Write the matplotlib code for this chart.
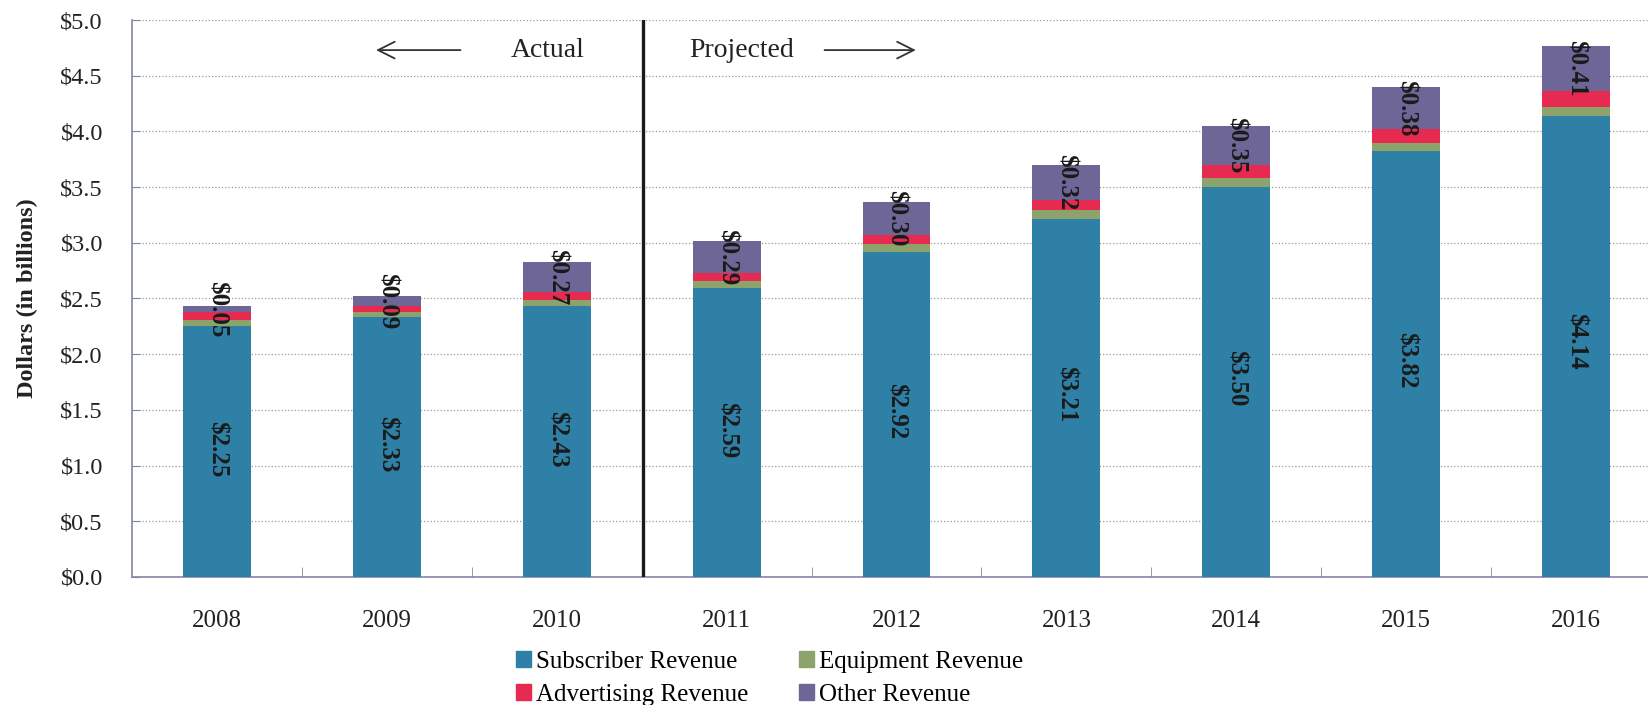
import matplotlib
matplotlib.use("Agg")
import matplotlib.pyplot as plt
import numpy as np
from matplotlib.patches import Patch

years = ["2008", "2009", "2010", "2011", "2012", "2013", "2014", "2015", "2016"]
subscriber = [2.25, 2.33, 2.43, 2.59, 2.92, 3.21, 3.50, 3.82, 4.14]
equipment = [0.06, 0.05, 0.06, 0.07, 0.07, 0.08, 0.08, 0.08, 0.08]
advertising = [0.07, 0.05, 0.07, 0.07, 0.08, 0.09, 0.12, 0.12, 0.14]
other = [0.05, 0.09, 0.27, 0.29, 0.30, 0.32, 0.35, 0.38, 0.41]
yticks = [0.0, 0.5, 1.0, 1.5, 2.0, 2.5, 3.0, 3.5, 4.0, 4.5, 5.0]

SERIF = ["Liberation Serif", "DejaVu Serif"]
colors = {
    "Subscriber Revenue": "#2e80a6",
    "Equipment Revenue": "#8ca36b",
    "Advertising Revenue": "#e62a50",
    "Other Revenue": "#6f6698",
}


def draw_bars(ax, x):
    width = 0.4
    bottom = np.zeros(len(x))
    series = [
        ("Subscriber Revenue", subscriber),
        ("Equipment Revenue", equipment),
        ("Advertising Revenue", advertising),
        ("Other Revenue", other),
    ]
    for name, vals in series:
        ax.bar(x, vals, width, bottom=bottom, color=colors[name], zorder=3)
        bottom = bottom + np.asarray(vals)

    # value labels, rotated like the original
    top_base = np.asarray(subscriber) + np.asarray(equipment) + np.asarray(advertising)
    for i in range(len(x)):
        ax.text(x[i], subscriber[i] * 0.51, "$%.2f" % subscriber[i], rotation=-90,
                ha="center", va="center", fontsize=18, fontweight="bold",
                family=SERIF, color="#1a1a1a", zorder=4)
        ax.text(x[i], top_base[i] + other[i] / 2, "$%.2f" % other[i], rotation=-90,
                ha="center", va="center", fontsize=18, fontweight="bold",
                family=SERIF, color="#1a1a1a", zorder=4)


def style_axes(ax, x):
    ax.set_xlim(-0.5, len(x) - 0.5)
    ax.set_ylim(0, 5.0)
    ax.set_yticks(yticks)
    ax.set_yticklabels(["$%.1f" % v for v in yticks], family=SERIF, fontsize=17.5, color="#222222")
    ax.set_xticks(x)
    ax.set_xticklabels(years, family=SERIF, fontsize=18, color="#222222")
    ax.set_xticks(np.arange(len(x) - 1) + 0.5, minor=True)

    ax.tick_params(axis="y", direction="in", length=6, color="#8088a8", pad=21)
    ax.tick_params(axis="x", which="major", length=0, pad=24)
    ax.tick_params(axis="x", which="minor", direction="in", length=7, color="#8a84a8")

    ax.grid(axis="y", linestyle=":", color="#9a9a9a", linewidth=0.9, zorder=0)
    ax.spines["top"].set_visible(False)
    ax.spines["right"].set_visible(False)
    ax.spines["left"].set_color("#8088a8")
    ax.spines["bottom"].set_color("#8a84a8")
    ax.spines["left"].set_linewidth(1.2)
    ax.spines["bottom"].set_linewidth(1.2)

    ax.set_ylabel("Dollars (in billions)", family=SERIF, fontsize=17.5, fontweight="bold", color="#222222")
    ax.yaxis.set_label_coords(-0.0615, 0.5)


def annotate_periods(ax):
    # divider between actual and projected
    ax.axvline(2.51, color="#1a1a1a", linewidth=2.4, zorder=5)
    y = 4.73
    ax.annotate("", xy=(0.92, y), xytext=(1.45, y),
                arrowprops=dict(arrowstyle="->", color="#333333", lw=1.3, mutation_scale=30))
    ax.text(1.73, y, "Actual", family=SERIF, fontsize=20, va="center", ha="left", color="#222222")
    ax.text(2.78, y, "Projected", family=SERIF, fontsize=20, va="center", ha="left", color="#222222")
    ax.annotate("", xy=(4.13, y), xytext=(3.56, y),
                arrowprops=dict(arrowstyle="->", color="#333333", lw=1.3, mutation_scale=30))


def add_legend(fig):
    order = ["Subscriber Revenue", "Advertising Revenue", "Equipment Revenue", "Other Revenue"]
    handles = [Patch(color=colors[n], label=n) for n in order]
    fig.legend(handles=handles, loc="center", bbox_to_anchor=(0.467, 0.038), ncol=2,
               frameon=False, prop={"family": SERIF, "size": 18},
               handlelength=0.6, handleheight=0.6, handletextpad=0.2,
               columnspacing=2.0, labelspacing=0.45, borderpad=0.1)


def main():
    fig = plt.figure(figsize=(16.48, 7.05), dpi=100)
    ax = fig.add_axes([0.0801, 0.1816, 0.9278, 0.790])
    x = np.arange(len(years))

    draw_bars(ax, x)
    style_axes(ax, x)
    annotate_periods(ax)
    add_legend(fig)

    fig.savefig("out.png", dpi=100)


if __name__ == "__main__":
    main()
